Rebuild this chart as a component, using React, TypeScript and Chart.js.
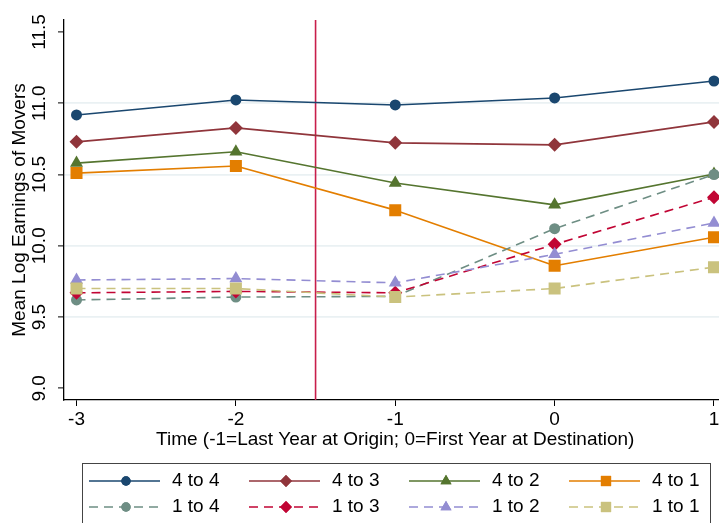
import React, { useEffect, useRef } from "react";
import { Chart, registerables } from "chart.js";
import { drawPoint } from "chart.js/helpers";

Chart.register(...registerables);

const xValues = [-3, -2, -1, 0, 1];
const xTicks = [-3, -2, -1, 0, 1];
const yTicks = [9.0, 9.5, 10.0, 10.5, 11.0, 11.5];
const cutoffX = -1.5;

const labels = ["4 to 4", "4 to 3", "4 to 2", "4 to 1", "1 to 4", "1 to 3", "1 to 2", "1 to 1"];
const s44 = [10.918, 11.023, 10.988, 11.037, 11.156];
const s43 = [10.729, 10.827, 10.722, 10.708, 10.869];
const s42 = [10.58, 10.66, 10.44, 10.287, 10.504];
const s41 = [10.51, 10.56, 10.25, 9.86, 10.06];
const s14 = [9.62, 9.64, 9.645, 10.12, 10.5];
const s13 = [9.67, 9.68, 9.67, 10.01, 10.34];
const s12 = [9.76, 9.77, 9.74, 9.94, 10.16];
const s11 = [9.70, 9.70, 9.64, 9.70, 9.85];
const seriesValues = [s44, s43, s42, s41, s14, s13, s12, s11];

const colors = ["#1a476f", "#90353b", "#55752f", "#e37e00", "#6e8e84", "#c10534", "#938dd2", "#cac27e"];
const styles = ["circle", "rectRot", "triangle", "rect", "circle", "rectRot", "triangle", "rect"];
const radii: Record<string, number> = { circle: 5.5, rectRot: 7, triangle: 7.5, rect: 8.5 };

const FONT = "'Liberation Sans', Arial, sans-serif";

export default function App() {
  const ref = useRef<HTMLCanvasElement | null>(null);
  useEffect(() => {
    if (!ref.current) return;
    const datasets = seriesValues.map((vals, i) => ({
      label: labels[i],
      data: xValues.map((x, j) => ({ x, y: vals[j] })),
      borderColor: colors[i],
      backgroundColor: colors[i],
      pointBackgroundColor: colors[i],
      pointBorderColor: colors[i],
      pointStyle: styles[i],
      pointRadius: radii[styles[i]],
      pointBorderWidth: 0,
      borderWidth: 1.6,
      borderDash: i >= 4 ? [9, 6] : [],
      tension: 0,
      order: 7 - i,
      fill: false,
    }));

    const overlay = {
      id: "overlay",
      beforeDatasetsDraw(chart: any) {
        const { ctx, chartArea, scales } = chart;
        const px = scales.x.getPixelForValue(cutoffX);
        ctx.save();
        ctx.strokeStyle = "#c81e4b";
        ctx.lineWidth = 1.6;
        ctx.beginPath();
        ctx.moveTo(px, chartArea.top);
        ctx.lineTo(px, chartArea.bottom);
        ctx.stroke();
        ctx.restore();
      },
      afterDraw(chart: any) {
        const { ctx } = chart;
        ctx.save();
        // legend box
        ctx.strokeStyle = "#444444";
        ctx.lineWidth = 1;
        ctx.strokeRect(82.5, 463.5, 628, 100);
        const ds = chart.data.datasets;
        ds.forEach((d: any, i: number) => {
          const col = i % 4;
          const row = Math.floor(i / 4);
          const x0 = 89 + col * 160;
          const y = 481 + row * 26;
          ctx.strokeStyle = d.borderColor;
          ctx.lineWidth = 1.6;
          ctx.setLineDash(d.borderDash || []);
          ctx.beginPath();
          ctx.moveTo(x0, y);
          ctx.lineTo(x0 + 71, y);
          ctx.stroke();
          ctx.setLineDash([]);
          ctx.fillStyle = d.backgroundColor;
          drawPoint(ctx, { pointStyle: d.pointStyle, radius: d.pointRadius * 0.85, borderWidth: 0, rotation: 0 } as any, x0 + 37, y);
          ctx.fill();
          ctx.fillStyle = "#000";
          ctx.font = `19px ${FONT}`;
          ctx.textBaseline = "middle";
          ctx.textAlign = "left";
          ctx.fillText(d.label, x0 + 83, y);
        });
        ctx.restore();
      },
    };

    const chart = new Chart(ref.current, {
      type: "line",
      data: { datasets },
      plugins: [overlay],
      options: {
        animation: false,
        responsive: false,
        maintainAspectRatio: false,
        layout: { padding: { top: 20, right: 13.5, left: 0, bottom: 0 } },
        plugins: { legend: { display: false }, tooltip: { enabled: false } },
        elements: { line: { borderJoinStyle: "round" } },
        scales: {
          x: {
            type: "linear",
            min: -3.0785,
            max: 1.0785,
            afterFit: (s: any) => { s.height = 140; },
            afterBuildTicks: (s: any) => { s.ticks = xTicks.map((v) => ({ value: v })); },
            grid: { drawOnChartArea: false, drawTicks: true, tickLength: 6, tickColor: "#000", tickWidth: 1 },
            border: { display: true, color: "#000", width: 1.3 },
            ticks: {
              color: "#000",
              font: { family: FONT, size: 19 },
              padding: 2,
              maxRotation: 0,
              callback: (v: any) => String(v),
            },
            title: {
              display: true,
              text: "Time (-1=Last Year at Origin; 0=First Year at Destination)",
              color: "#000",
              font: { family: FONT, size: 19 },
              padding: { top: 0, bottom: 88.6 },
            },
          },
          y: {
            type: "linear",
            min: 8.918,
            max: 11.584,
            afterFit: (s: any) => { s.width = 64; },
            afterBuildTicks: (s: any) => { s.ticks = yTicks.map((v) => ({ value: v })); },
            grid: {
              drawTicks: true,
              tickLength: 6,
              tickColor: "#000",
              tickWidth: 1,
              lineWidth: 1.8,
              color: (c: any) => {
                const v = c.tick ? c.tick.value : null;
                if (v === 9 || v === 11.5) return "rgba(0,0,0,0)";
                return "#eaf1f3";
              },
            },
            border: { display: true, color: "#000", width: 1.3 },
            ticks: {
              color: "#000",
              font: { family: FONT, size: 19 },
              padding: 0,
              minRotation: 90,
              maxRotation: 90,
              crossAlign: "center",
              callback: (v: any) => Number(v).toFixed(1),
            },
            title: {
              display: true,
              text: "Mean Log Earnings of Movers",
              color: "#000",
              font: { family: FONT, size: 19 },
              padding: { top: 8.6, bottom: 0 },
            },
          },
        },
      } as any,
    });
    return () => chart.destroy();
  }, []);

  return (
    <div style={{ position: "fixed", left: 0, top: 0, width: 740, height: 540, background: "#fff" }}>
      <canvas ref={ref} width={740} height={540} style={{ display: "block" }} />
    </div>
  );
}
